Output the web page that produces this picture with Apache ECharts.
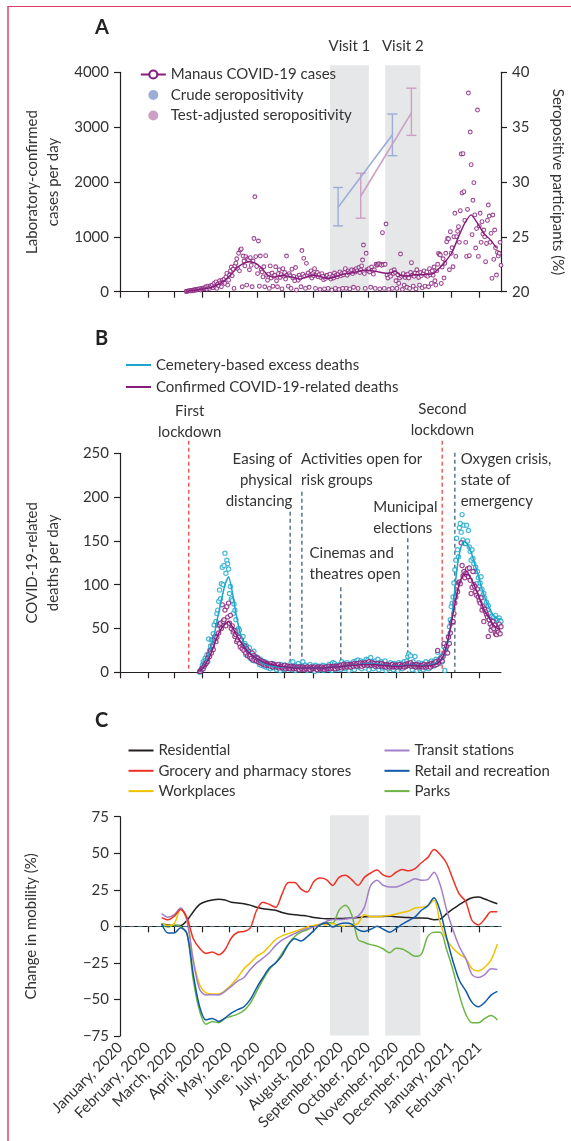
<!DOCTYPE html>
<html>
<head>
<meta charset="utf-8">
<script src="https://cdn.jsdelivr.net/npm/echarts@6/dist/echarts.min.js"></script>
<style>
  html, body { margin: 0; padding: 0; background: #fff; }
  #frame { position: absolute; left: 7px; top: 6px; right: 0; bottom: 0;
           border-top: 1.5px solid #dc3b6a; border-left: 2px solid #e27492; }
  #chart { position: absolute; left: 0; top: 0; width: 571px; height: 1141px; }
</style>
</head>
<body>
<div id="frame"></div>
<div id="chart"></div>
<script>
// ---------- data ----------
const axisStart = '2020-01-01';
const axisEnd = '2021-02-25';
const monthNames = ['January', 'February', 'March', 'April', 'May', 'June', 'July',
  'August', 'September', 'October', 'November', 'December'];

// A: daily laboratory-confirmed cases, from 14 March 2020
const casesStart = '2020-03-14';
const casesDaily = [
  5, 10, 8, 15, 20, 12, 25,
  18, 30, 22, 40, 28, 35, 45,
  40, 55, 30, 60, 48, 70, 52,
  65, 90, 45, 100, 75, 60, 110,
  85, 120, 70, 150, 95, 180, 60,
  140, 110, 200, 160, 90, 210, 180,
  230, 150, 270, 335, 120, 210, 300,
  380, 450, 290, 410, 60, 470, 520,
  600, 420, 700, 380, 760, 780, 90,
  650, 560, 470, 640, 120, 600, 580,
  400, 620, 480, 90, 560, 970, 1730,
  640, 460, 330, 924, 100, 650, 400,
  360, 270, 455, 90, 657, 300, 210,
  320, 60, 470, 250, 340, 100, 280,
  300, 455, 200, 90, 330, 400, 260,
  310, 50, 420, 280, 350, 230, 650,
  300, 100, 330, 290, 60, 410, 250,
  280, 200, 440, 30, 270, 210, 300,
  250, 90, 750, 320, 608, 280, 60,
  517, 300, 340, 80, 290, 380, 250,
  330, 290, 420, 60, 300, 350, 270,
  310, 40, 260, 330, 280, 220, 50,
  240, 290, 300, 60, 260, 320, 230,
  30, 280, 250, 340, 60, 300, 270,
  320, 40, 360, 290, 330, 60, 310,
  350, 420, 60, 300, 380, 340, 50,
  370, 400, 330, 80, 390, 360, 420,
  380, 60, 440, 350, 400, 470, 578,
  851, 330, 60, 700, 400, 380, 420,
  360, 80, 450, 390, 320, 400, 60,
  500, 480, 490, 510, 50, 500, 480,
  1076, 490, 60, 500, 1234, 300, 250,
  40, 320, 280, 380, 60, 330, 400,
  350, 200, 60, 310, 150, 250, 687,
  280, 40, 330, 120, 260, 300, 80,
  320, 250, 60, 350, 529, 300, 100,
  280, 340, 50, 400, 330, 260, 120,
  350, 290, 70, 330, 380, 100, 300,
  360, 280, 90, 420, 310, 150, 380,
  300, 450, 200, 120, 380, 500, 699,
  680, 669, 150, 450, 600, 250, 520,
  700, 912, 973, 963, 400, 1094, 700,
  800, 455, 1003, 1429, 644, 1003, 1100,
  1185, 900, 1477, 2511, 1800, 2516, 1824,
  1300, 900, 644, 1500, 3622, 656, 2911,
  2316, 1040, 1666, 1988, 1400, 797, 1150,
  3312, 644, 1200, 1429, 900, 1277, 1050,
  1125, 1000, 547, 880, 1300, 1580, 1379,
  900, 1064, 243, 1398, 590, 1125, 800,
  304, 717, 650, 700, 900, 480
];
// A: moving average of cases, one value every 7 days
const casesAvgStart = '2020-03-14';
const casesAvg = [10, 20, 35, 55, 80, 130, 200, 300, 430, 510,
  545, 515, 420, 290, 265, 295, 285, 260, 230, 270,
  300, 285, 245, 250, 290, 325, 340, 365, 390, 385,
  370, 345, 335, 370, 290, 285, 310, 310, 315, 330,
  430, 560, 720, 1000, 1250, 1400, 1250, 1060, 950, 800];

// A: seropositivity (%) with 95% CI
const seroCrudeDates = ['2020-08-29', '2020-10-28'];
const seroCrude = [27.7, 34.3];
const seroCrudeLow = [26.0, 32.4];
const seroCrudeHigh = [29.5, 36.2];
const seroAdjDates = ['2020-09-23', '2020-11-18'];
const seroAdj = [28.7, 36.3];
const seroAdjLow = [26.7, 34.25];
const seroAdjHigh = [30.8, 38.55];

// study visits (shaded)
const visitNames = ['Visit 1', 'Visit 2'];
const visitStart = ['2020-08-20', '2020-10-20'];
const visitEnd = ['2020-10-02', '2020-11-28'];

// B: daily deaths, from 29 March 2020
const deathsStart = '2020-03-29';
const cemeteryDaily = [
  0, 2, 4, 8, 12, 10, 16,
  14, 20, 12, 38, 25, 30, 37,
  37, 44, 54, 40, 58, 67, 71,
  81, 94, 84, 101, 120, 100, 122,
  136, 113, 128, 124, 118, 90, 98,
  84, 82, 67, 78, 71, 60, 48,
  42, 50, 48, 40, 37, 29, 41,
  27, 33, 20, 30, 25, 19, 28,
  16, 22, 14, 20, 24, 13, 18,
  14, 17, 12, 9, 15, 8, 13,
  10, 7, 12, 6, 11, 9, 5,
  8, 4, 9, 6, 10, 5, 7,
  6, 3, 8, 5, 7, 2, 9,
  6, 4, 7, 3, 8, 5, 6,
  4, 7, 5, 11, 3, 12, 6,
  5, 2, 8, 4, 10, 6, 3,
  7, 4, 12, 5, 3, 8, 6,
  2, 6, 4, 9, 5, 3, 7,
  5, 1, 8, 4, 6, 2, 7,
  3, 6, 5, 8, 2, 4, 7,
  5, 3, 6, 9, 4, 7, 2,
  11, 5, 10, 3, 8, 6, 4,
  7, 9, 3, 12, 6, 5, 10,
  4, 8, 11, 6, 2, 9, 7,
  10, 5, 12, 3, 8, 13, 9,
  14, 6, 11, 13, 4, 10, 8,
  12, 5, 15, 9, 14, 3, 11,
  17, 8, 12, 4, 10, 13, 6,
  9, 15, 3, 11, 7, 12, 5,
  10, 6, 13, 2, 9, 8, 4,
  7, 11, 5, 9, 3, 10, 8,
  6, 9, 2, 11, 7, 5, 10,
  4, 8, 12, 6, 9, 13, 18,
  21, 10, 19, 7, 3, 12, 8,
  18, 6, 2, 9, 11, 4, 8,
  6, 10, 3, 9, 7, 12, 5,
  8, 4, 11, 6, 13, 9, 7,
  12, 9, 15, 11, 23, 14, 10,
  16, 18, 12, 20, 29, 2, 24,
  30, 33, 41, 52, 60, 75, 79,
  86, 102, 117, 128, 153, 140, 132,
  165, 170, 160, 180, 151, 168, 147,
  147, 168, 150, 162, 143, 138, 128,
  140, 130, 124, 115, 120, 101, 115,
  108, 98, 102, 109, 95, 88, 90,
  85, 77, 80, 71, 76, 67, 63,
  56, 64, 60, 63, 58, 65, 61,
  60, 57, 62, 59, 58
];
const confirmedDaily = [
  1, 1, 3, 5, 4, 7, 9,
  10, 12, 16, 20, 18, 25, 22,
  30, 26, 37, 41, 35, 40, 54,
  45, 54, 56, 50, 77, 58, 60,
  71, 53, 75, 63, 79, 56, 65,
  50, 53, 46, 48, 41, 43, 35,
  37, 40, 33, 29, 37, 27, 31,
  25, 30, 22, 27, 19, 24, 18,
  20, 16, 22, 14, 19, 15, 17,
  13, 16, 12, 14, 11, 13, 10,
  12, 9, 11, 8, 10, 9, 8,
  9, 7, 10, 8, 6, 9, 7,
  8, 6, 7, 9, 5, 7, 6,
  7, 5, 6, 8, 4, 6, 7,
  5, 6, 4, 7, 5, 6, 4,
  6, 5, 4, 6, 5, 3, 6,
  5, 4, 6, 5, 3, 5, 4,
  6, 4, 5, 3, 6, 5, 4,
  5, 6, 4, 5, 3, 6, 5,
  4, 5, 6, 4, 5, 3, 5,
  6, 4, 5, 7, 5, 4, 6,
  5, 7, 6, 4, 7, 6, 5,
  7, 6, 8, 5, 7, 9, 6,
  8, 7, 6, 9, 7, 8, 6,
  9, 8, 7, 10, 8, 9, 7,
  10, 8, 9, 11, 7, 10, 9,
  8, 11, 9, 10, 8, 12, 9,
  10, 8, 11, 9, 10, 7, 9,
  8, 10, 7, 9, 8, 10, 7,
  9, 7, 8, 6, 9, 8, 7,
  6, 8, 7, 9, 6, 7, 8,
  7, 6, 8, 7, 9, 6, 7,
  8, 7, 6, 9, 7, 8, 10,
  9, 8, 11, 7, 9, 8, 7,
  8, 6, 9, 7, 8, 6, 7,
  7, 8, 6, 9, 7, 6, 8,
  7, 9, 8, 6, 10, 8, 9,
  10, 8, 12, 9, 25, 11, 13,
  14, 16, 13, 18, 33, 22, 27,
  30, 22, 40, 33, 45, 56, 58,
  58, 67, 79, 86, 94, 92, 102,
  103, 101, 148, 122, 110, 115, 108,
  113, 112, 118, 109, 119, 105, 90,
  97, 115, 100, 98, 92, 88, 95,
  86, 82, 79, 85, 71, 75, 58,
  72, 69, 66, 63, 41, 60, 55,
  48, 52, 58, 50, 54, 44, 43,
  50, 46, 55, 44, 52
];
// B: smoothed deaths, one value every 4 days
const deathsAvgStart = '2020-03-29';
const cemeteryAvg = [0, 5, 14, 27, 42, 63, 82, 100, 109, 92,
  68, 48, 35, 27, 22, 18, 15, 11, 9, 8,
  7, 6.5, 6, 6, 6, 5.5, 5.5, 5.5, 5, 5,
  5, 5, 5, 5, 5, 5, 5.5, 6, 6, 6.5,
  7, 7.5, 8, 8.5, 9, 9.5, 10, 10, 10, 9.5,
  9, 8.5, 8, 7.5, 7.5, 7.5, 7.5, 8, 9, 9,
  8, 7.5, 7.5, 8, 9, 10, 12, 15, 25, 44,
  75, 115, 140, 150, 146, 137, 124, 110, 95, 83,
  74, 66, 62, 60];
const confirmedAvg = [1, 5, 12, 20, 31, 42, 50, 55, 58, 52,
  44, 37, 31, 25, 21, 18, 15, 13, 11, 9.5,
  8.5, 8, 7, 6.5, 6, 5.5, 5, 5, 5, 5,
  5, 5, 5, 5, 5, 5, 5.5, 6, 6, 6.5,
  7, 7.5, 8, 8, 8.5, 9, 9, 9, 9, 8.5,
  8, 8, 7.5, 7, 7, 7, 7, 7.5, 8, 8,
  7.5, 7, 7, 7.5, 8, 9, 11, 16, 27, 45,
  67, 88, 104, 112, 112, 107, 98, 88, 77, 68,
  62, 55, 51, 49];

// B: events
const eventDates = ['2020-03-17', '2020-07-07', '2020-07-20', '2020-09-01',
  '2020-11-14', '2020-12-22', '2021-01-05'];
const eventLabels = ['First\nlockdown', 'Easing of\nphysical\ndistancing',
  'Activities open for\nrisk groups', 'Cinemas and\ntheatres open',
  'Municipal\nelections', 'Second\nlockdown', 'Oxygen crisis,\nstate of\nemergency'];

// C: change in mobility (%), one value every 7 days from 16 Feb 2020
const mobilityStart = '2020-02-16';
const residential = [1.5, 1, 0.5, 0.5, 4, 10, 15, 17, 18, 18.5,
  18, 16.5, 16, 15.5, 14.5, 13, 12, 11.5, 11, 9.5,
  8.5, 8, 7.5, 7, 6, 5.5, 5.2, 5.2, 5.3, 5.5,
  5.7, 6, 6.5, 6.8, 6.8, 6.8, 7, 6.5, 6.2, 6,
  5.7, 5.7, 5.5, 4.5, 5, 8.7, 12, 14.8, 17.5, 19.5,
  20, 18.7, 17, 15.5];
const grocery = [6, 4.5, 7, 11.5, 6, -8.5, -15, -18.5, -17.5, -19.5,
  -16, -8, -4, -3.5, -1, 11, 16.5, 15, 13, 22,
  30, 30, 25.5, 23.5, 30.5, 33, 32, 28, 33.5, 35,
  32, 28, 33.5, 36.5, 38.5, 35, 34, 37, 38.8, 38,
  39.5, 43.5, 47, 52.5, 49, 43, 32, 22, 17, 4,
  1, 5, 10, 10];
const workplaces = [2, 0.5, 2, 12, 4, -23, -40, -45.5, -46.3, -46.3,
  -44, -40, -35, -29, -25, -20.5, -18, -13.5, -9, -6.5,
  -5, -3.5, -2, -0.5, 0.5, 1.5, 1, 2, 0.5, 0,
  0.5, 2, 8, 6.5, 6.5, 7, 7.5, 8.5, 9.5, 10.5,
  12.5, 13, 14, 18, 2, -9, -15, -19, -22, -29,
  -30.5, -28, -23, -12];
const transit = [8.7, 6.3, 8, 12.5, 4, -24, -43, -47, -46.7, -47,
  -44.5, -41, -37.5, -35, -29.5, -25, -21.7, -18, -13, -9.5,
  -7, -5, -3, -1.5, -0.5, 1.2, 3.4, 4.6, 4.6, 5,
  5.6, 7, 13, 28, 31.5, 28, 27, 27, 28.5, 30.5,
  32.5, 31.5, 32, 37, 28, 11, -2.5, -14, -22, -33,
  -35, -33, -29, -29.5];
const retail = [2, -4.5, -4.5, -1, -5, -33, -55, -64, -63, -65,
  -62.7, -59.3, -57, -55, -50, -42, -35, -28.5, -25, -20,
  -12.5, -8.5, -10, -7, -3, 1, 2.3, -0.5, 1.5, 2.3,
  1.5, -2.3, -3.5, -2, 0, -2, -4, -1.5, 1.5, 4,
  6.5, 11, 14, 19.5, 10, -8, -24, -37, -44, -52,
  -55, -52, -47, -44.5];
const parks = [1, -0.5, 1, 0, -5, -37, -58, -67, -65, -66,
  -63, -61.5, -60, -57.5, -52.5, -44.5, -36.5, -29.5, -25, -18.5,
  -12, -7, -4, -2.3, 0, 1.1, 2.7, 2.3, 11, 14.5,
  8, -9, -11, -12.5, -13.5, -15.5, -18, -15, -15.5, -18,
  -20.5, -19, -7, -4.1, -4, -16, -30, -47, -60, -66,
  -66, -63, -61, -64];

// ---------- helpers ----------
const DAY = 86400000;
const toTime = s => Date.parse(s + 'T00:00:00Z');
const iso = t => new Date(t).toISOString().slice(0, 10);
const categories = [];
for (let t = toTime(axisStart); t <= toTime(axisEnd); t += DAY) categories.push(iso(t));
const dated = (start, step, vals) => vals.map((v, i) => [iso(toTime(start) + i * step * DAY), v]);
const isMonthStart = (i, v) => v.slice(8) === '01';

const FONT = 'Lato';
const TXT = '#333';
const AXC = '#231f20';
const PURPLE = '#861b79';
const CYAN = '#1ba6cc';
const CRUDE = '#9cadd8';
const ADJ = '#cc9fc5';
const BAND = '#e6e7e8';

function xAxisFor(gridIndex, labels) {
  return {
    type: 'category', gridIndex, data: categories, boundaryGap: false,
    axisLine: { lineStyle: { color: AXC, width: 1.2 } },
    axisTick: { interval: isMonthStart, length: 6, lineStyle: { color: AXC, width: 1.2 } },
    axisLabel: labels ? {
      interval: isMonthStart, rotate: 45, margin: 9, fontSize: 15, color: TXT, fontFamily: FONT,
      formatter: v => monthNames[+v.slice(5, 7) - 1] + ', ' + v.slice(0, 4)
    } : { show: false },
    splitLine: { show: false }
  };
}
function yAxisFor(gridIndex, o) {
  return Object.assign({
    type: 'value', gridIndex, nameLocation: 'middle',
    nameTextStyle: { fontSize: 15, color: TXT, lineHeight: 21, fontFamily: FONT },
    axisLine: { show: true, lineStyle: { color: AXC, width: 1.2 } },
    axisTick: { show: true, length: 6, lineStyle: { color: AXC, width: 1.2 } },
    axisLabel: { fontSize: 15, color: TXT, margin: 11, fontFamily: FONT,
      formatter: v => v < 0 ? '\u2212' + (-v) : String(v) },
    splitLine: { show: false }
  }, o);
}
function errorBars(color) {
  return function (params, api) {
    const x = api.value(0);
    const lo = api.coord([x, api.value(1)]);
    const hi = api.coord([x, api.value(2)]);
    const w = 5;
    const st = { stroke: color, lineWidth: 1.4 };
    return { type: 'group', children: [
      { type: 'line', shape: { x1: lo[0], y1: lo[1], x2: hi[0], y2: hi[1] }, style: st },
      { type: 'line', shape: { x1: lo[0] - w, y1: lo[1], x2: lo[0] + w, y2: lo[1] }, style: st },
      { type: 'line', shape: { x1: hi[0] - w, y1: hi[1], x2: hi[0] + w, y2: hi[1] }, style: st }
    ] };
  };
}
const ring = (color, w) => ({ color: '#fff', borderColor: color, borderWidth: w });
function mobility(name, color, vals) {
  return { name, type: 'line', xAxisIndex: 2, yAxisIndex: 3, data: dated(mobilityStart, 7, vals),
    color, showSymbol: false, symbol: 'none', smooth: 0.3, lineStyle: { color, width: 1.5 } };
}

const chart = echarts.init(document.getElementById('chart'));
const legendText = { fontSize: 15, color: TXT, fontFamily: FONT };

const option = {
  animation: false,
  textStyle: { fontFamily: FONT },
  grid: [
    { left: 120, right: 70, top: 72.3, height: 219.4, containLabel: false, outerBoundsMode: 'none' },
    { left: 120, right: 70, top: 453.3, height: 219, containLabel: false, outerBoundsMode: 'none' },
    { left: 120, right: 70, top: 816.7, height: 219.3, containLabel: false, outerBoundsMode: 'none' }
  ],
  xAxis: [xAxisFor(0, false), xAxisFor(1, false), xAxisFor(2, true)],
  yAxis: [
    yAxisFor(0, { min: 0, max: 4000, interval: 1000, name: 'Laboratory-confirmed\ncases per day', nameGap: 56 }),
    yAxisFor(0, { min: 20, max: 40, interval: 5, position: 'right', name: 'Seropositive participants (%)',
      nameGap: 46, nameRotate: -90 }),
    yAxisFor(1, { min: 0, max: 250, interval: 50, name: 'COVID-19-related\ndeaths per day', nameGap: 56 }),
    yAxisFor(2, { min: -75, max: 75, interval: 25, name: 'Change in mobility (%)', nameGap: 78 })
  ],
  legend: [
    { orient: 'vertical', left: 134.8, top: 62, itemWidth: 25, itemHeight: 10, itemGap: 5.5,
      selectedMode: false, textStyle: legendText,
      data: [{ name: 'Manaus COVID-19 cases' },
             { name: 'Crude seropositivity', icon: 'circle' },
             { name: 'Test-adjusted seropositivity', icon: 'circle' }] },
    { orient: 'vertical', left: 121, top: 352.5, itemWidth: 25, itemHeight: 2, itemGap: 7,
      selectedMode: false, textStyle: legendText,
      data: [{ name: 'Cemetery-based excess deaths', icon: 'rect' },
             { name: 'Confirmed COVID-19-related deaths', icon: 'rect' }] },
    { orient: 'vertical', left: 123.5, top: 738, itemWidth: 25, itemHeight: 2, itemGap: 5.3,
      selectedMode: false, textStyle: legendText,
      data: ['Residential', 'Grocery and pharmacy stores', 'Workplaces'].map(n => ({ name: n, icon: 'rect' })) },
    { orient: 'vertical', left: 379.5, top: 738, itemWidth: 25, itemHeight: 2, itemGap: 5.3,
      selectedMode: false, textStyle: legendText,
      data: ['Transit stations', 'Retail and recreation', 'Parks'].map(n => ({ name: n, icon: 'rect' })) }
  ],
  series: [
    // ---- A ----
    { name: 'Manaus daily cases', type: 'scatter', xAxisIndex: 0, yAxisIndex: 0,
      data: dated(casesStart, 1, casesDaily), symbol: 'circle', symbolSize: 3.8,
      itemStyle: ring(PURPLE, 1.1), z: 2 },
    { name: 'Manaus COVID-19 cases', type: 'line', xAxisIndex: 0, yAxisIndex: 0,
      data: dated(casesAvgStart, 7, casesAvg), color: PURPLE, symbol: 'circle', symbolSize: 8,
      showSymbol: false, smooth: 0.2, lineStyle: { color: PURPLE, width: 1.4 },
      itemStyle: { color: '#fff', borderColor: PURPLE, borderWidth: 1.5 }, z: 3 },
    { name: 'crude-ci', type: 'custom', xAxisIndex: 0, yAxisIndex: 1, renderItem: errorBars(CRUDE),
      encode: { x: 0, y: [1, 2] }, z: 4,
      data: seroCrudeDates.map((d, i) => [d, seroCrudeLow[i], seroCrudeHigh[i]]) },
    { name: 'Crude seropositivity', type: 'line', xAxisIndex: 0, yAxisIndex: 1, color: CRUDE,
      data: seroCrudeDates.map((d, i) => [d, seroCrude[i]]), symbol: 'circle', symbolSize: 10,
      lineStyle: { color: CRUDE, width: 1.6 }, itemStyle: { color: CRUDE }, z: 5 },
    { name: 'adj-ci', type: 'custom', xAxisIndex: 0, yAxisIndex: 1, renderItem: errorBars(ADJ),
      encode: { x: 0, y: [1, 2] }, z: 4,
      data: seroAdjDates.map((d, i) => [d, seroAdjLow[i], seroAdjHigh[i]]) },
    { name: 'Test-adjusted seropositivity', type: 'line', xAxisIndex: 0, yAxisIndex: 1, color: ADJ,
      data: seroAdjDates.map((d, i) => [d, seroAdj[i]]), symbol: 'circle', symbolSize: 10,
      lineStyle: { color: ADJ, width: 1.6 }, itemStyle: { color: ADJ }, z: 5 },
    // ---- B ----
    { name: 'cemetery-daily', type: 'scatter', xAxisIndex: 1, yAxisIndex: 2,
      data: dated(deathsStart, 1, cemeteryDaily), symbol: 'circle', symbolSize: 4.2,
      itemStyle: ring(CYAN, 1.2), z: 2 },
    { name: 'confirmed-daily', type: 'scatter', xAxisIndex: 1, yAxisIndex: 2,
      data: dated(deathsStart, 1, confirmedDaily), symbol: 'circle', symbolSize: 4.2,
      itemStyle: ring(PURPLE, 1.2), z: 2 },
    { name: 'Cemetery-based excess deaths', type: 'line', xAxisIndex: 1, yAxisIndex: 2, color: CYAN,
      data: dated(deathsAvgStart, 4, cemeteryAvg), showSymbol: false, symbol: 'none', smooth: 0.2,
      lineStyle: { color: CYAN, width: 1.5 }, z: 3 },
    { name: 'Confirmed COVID-19-related deaths', type: 'line', xAxisIndex: 1, yAxisIndex: 2, color: PURPLE,
      data: dated(deathsAvgStart, 4, confirmedAvg), showSymbol: false, symbol: 'none', smooth: 0.2,
      lineStyle: { color: PURPLE, width: 1.5 }, z: 3 },
    // ---- C ----
    Object.assign(mobility('Residential', '#231f20', residential), {
      markLine: { silent: true, symbol: 'none', label: { show: false },
        lineStyle: { color: '#3b6478', type: [5, 4], width: 1.2 }, data: [{ yAxis: 0 }] } }),
    mobility('Parks', '#6cb545', parks),
    mobility('Workplaces', '#f0c300', workplaces),
    mobility('Transit stations', '#a27fc8', transit),
    mobility('Retail and recreation', '#0f59a8', retail),
    mobility('Grocery and pharmacy stores', '#ee3124', grocery)
  ]
};
chart.setOption(option);

// ---------- annotations placed through the axes ----------
const xA = d => chart.convertToPixel({ xAxisIndex: 0 }, d);
const xB = d => chart.convertToPixel({ xAxisIndex: 1 }, d);
const xC = d => chart.convertToPixel({ xAxisIndex: 2 }, d);
const yA = v => chart.convertToPixel({ yAxisIndex: 0 }, v);
const yB = v => chart.convertToPixel({ yAxisIndex: 2 }, v);
const yC = v => chart.convertToPixel({ yAxisIndex: 3 }, v);

const graphics = [];
const txt = (x, y, text, o) => graphics.push({ type: 'text', x, y, silent: true, z: 10,
  style: Object.assign({ text, fontSize: 15, fontFamily: FONT, fill: TXT,
    align: 'left', verticalAlign: 'top', lineHeight: 21 }, o || {}) });

[['A', 28], ['B', 338.5], ['C', 720.5]].forEach(([t, y]) =>
  txt(95, y, t, { fontSize: 20, fontWeight: 'bold', fill: '#222', verticalAlign: 'middle' }));

visitNames.forEach((n, i) => {
  const a0 = xA(visitStart[i]), a1 = xA(visitEnd[i]);
  graphics.push({ type: 'rect', silent: true, z: -1,
    shape: { x: a0, y: yA(4000) - 7, width: a1 - a0, height: yA(0) - yA(4000) + 6.4 }, style: { fill: BAND } });
  const c0 = xC(visitStart[i]), c1 = xC(visitEnd[i]);
  graphics.push({ type: 'rect', silent: true, z: -1,
    shape: { x: c0, y: yC(75) - 1.5, width: c1 - c0, height: yC(-75) - yC(75) + 0.9 }, style: { fill: BAND } });
  txt((a0 + a1) / 2, 46, n, { align: 'center', verticalAlign: 'middle' });
});

const RED = '#e8473f', SLATE = '#3f6275';
const eventLayout = [
  { align: 'center', dx: 1, y0: 410.7, top: 440.7, color: RED },
  { align: 'right', dx: 2.2, y0: 458.7, top: 511.7, color: SLATE },
  { align: 'left', dx: -0.8, y0: 458.7, top: 491.7, color: SLATE },
  { align: 'left', dx: -31.3, y0: 552.7, top: 587.3, color: SLATE },
  { align: 'left', dx: -34.6, y0: 506.7, top: 538.3, color: SLATE },
  { align: 'center', dx: 0.3, y0: 409.5, top: 440.7, color: RED },
  { align: 'left', dx: 5.8, y0: 458.7, top: 452.7, color: SLATE }
];
eventDates.forEach((d, i) => {
  const L = eventLayout[i];
  const x = xB(d);
  graphics.push({ type: 'line', silent: true, z: 1,
    shape: { x1: x, y1: L.top, x2: x, y2: yB(0) },
    style: { stroke: L.color, lineWidth: 1.3, lineDash: [4, 3] } });
  txt(x + L.dx, L.y0 - 10.5, eventLabels[i], { align: L.align });
});

chart.setOption({ graphic: graphics });
</script>
</body>
</html>
